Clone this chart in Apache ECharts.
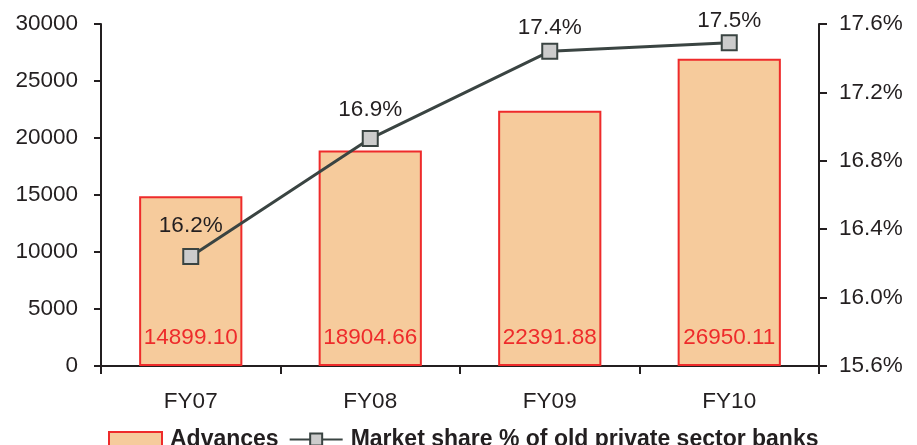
<!DOCTYPE html>
<html>
<head>
<meta charset="utf-8">
<style>
  html, body { margin: 0; padding: 0; background: #ffffff; }
  #chart { width: 917px; height: 445px; }
</style>
<script src="https://cdn.jsdelivr.net/npm/echarts@6/dist/echarts.min.js"></script>
</head>
<body>
<div id="chart"></div>
<script>
// Fiscal years on the category axis
var years = ['FY07', 'FY08', 'FY09', 'FY10'];
// Advances (left axis)
var advances = [14899.10, 18904.66, 22391.88, 26950.11];
// Market share % of old private sector banks (right axis)
var marketShare = [16.24, 16.93, 17.44, 17.49];
// Gap between each share marker and its label
var shareLabelGap = [11, 9, 4, 2];

var FONT = '"Liberation Sans", Arial, sans-serif';
var INK = '#231f20';
var chart = echarts.init(document.getElementById('chart'));

chart.setOption({
  animation: false,
  textStyle: { fontFamily: FONT },
  grid: { left: 101, right: 98, top: 24, bottom: 79, containLabel: false },
  legend: {
    top: 423,
    left: 103,
    itemGap: 10,
    itemWidth: 53,
    itemHeight: 15,
    textStyle: { fontFamily: FONT, fontSize: 23, fontWeight: 'bold', color: INK, padding: [0, 0, 0, 3] },
    data: [
      { name: 'Advances', icon: 'rect', itemStyle: { color: '#f6cb9c', borderColor: '#ee2b2b', borderWidth: 2 } },
      { name: 'Market share % of old private sector banks' }
    ]
  },
  xAxis: {
    type: 'category',
    data: years,
    axisLine: { lineStyle: { color: INK, width: 2 } },
    axisTick: { show: true, length: 8, alignWithLabel: false, lineStyle: { color: INK, width: 2 } },
    axisLabel: { color: INK, fontSize: 22.5, margin: 24, fontFamily: FONT },
    splitLine: { show: false }
  },
  yAxis: [
    {
      type: 'value',
      min: 0, max: 30000, interval: 5000,
      axisLine: { show: true, lineStyle: { color: INK, width: 2 } },
      axisTick: { show: true, length: 7, lineStyle: { color: INK, width: 2 } },
      axisLabel: {
        color: INK, fontSize: 22.5, margin: 23, fontFamily: FONT,
        formatter: function (v) { return String(v); }
      },
      splitLine: { show: false }
    },
    {
      type: 'value',
      min: 15.6, max: 17.6, interval: 0.4,
      position: 'right',
      axisLine: { show: true, lineStyle: { color: INK, width: 2 } },
      axisTick: { show: true, length: 8, lineStyle: { color: INK, width: 2 } },
      axisLabel: {
        color: INK, fontSize: 22.5, margin: 20, fontFamily: FONT,
        formatter: function (v) { return v.toFixed(1) + '%'; }
      },
      splitLine: { show: false }
    }
  ],
  series: [
    {
      name: 'Advances',
      type: 'bar',
      yAxisIndex: 0,
      data: advances,
      barWidth: '57.5%',
      itemStyle: { color: '#f6cb9c', borderColor: '#ee2b2b', borderWidth: 2 },
      label: {
        show: true,
        position: 'insideBottom',
        distance: 17,
        color: '#ee2b2b',
        fontSize: 22.5,
        fontFamily: FONT,
        formatter: function (p) { return p.value.toFixed(2); }
      }
    },
    {
      name: 'Market share % of old private sector banks',
      type: 'line',
      yAxisIndex: 1,
      data: marketShare.map(function (v, i) {
        return { value: v, label: { distance: shareLabelGap[i] } };
      }),
      symbol: 'rect',
      symbolSize: 15,
      lineStyle: { color: '#3a4442', width: 3 },
      itemStyle: { color: '#cccccc', borderColor: '#3a4442', borderWidth: 2 },
      label: {
        show: true,
        position: 'top',
        color: INK,
        fontSize: 22.5,
        fontFamily: FONT,
        formatter: function (p) { return p.value.toFixed(1) + '%'; }
      }
    }
  ]
});
</script>
</body>
</html>
